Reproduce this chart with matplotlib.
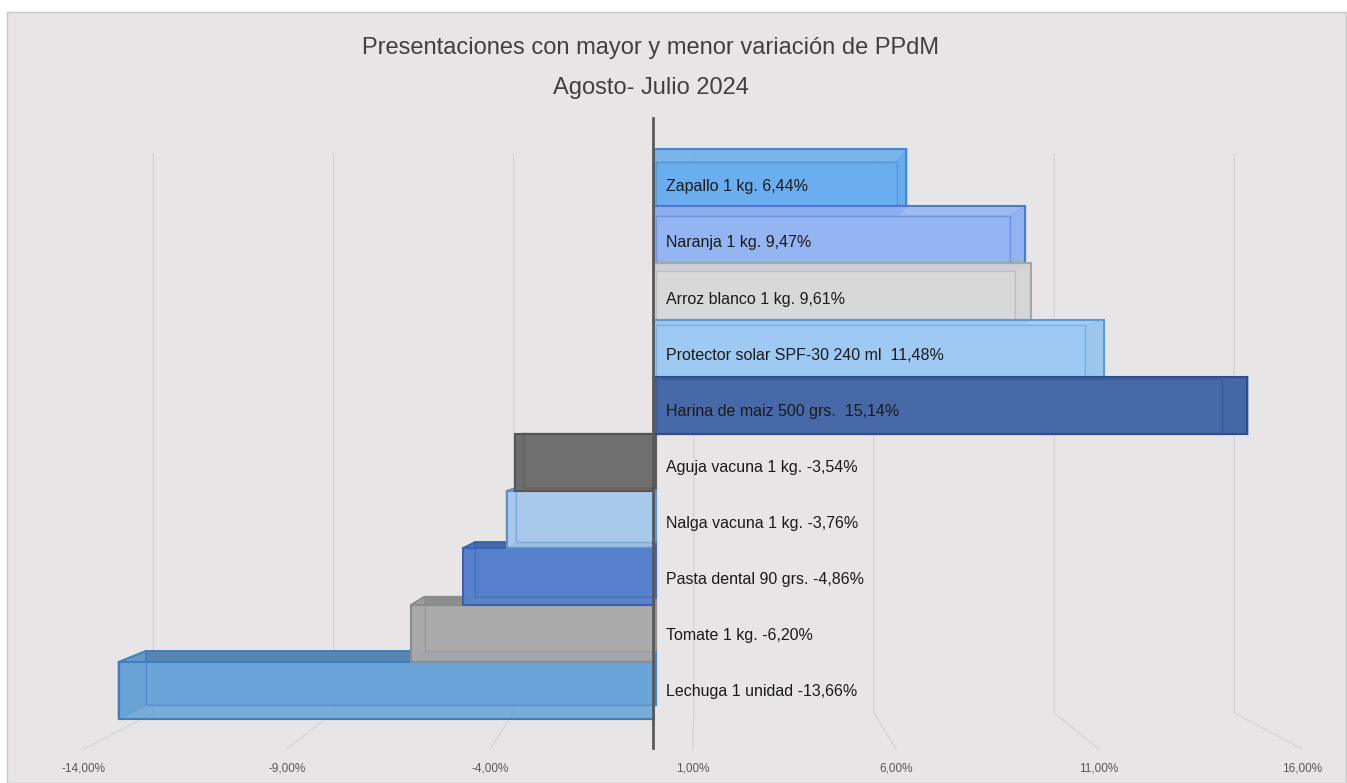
import numpy as np
import matplotlib.pyplot as plt
from matplotlib.patches import Polygon, Rectangle
import matplotlib.colors as mcolors

plt.rcParams['font.family'] = ['Liberation Sans', 'DejaVu Sans']

# data (bottom to top)
productos = ["Lechuga 1 unidad", "Tomate 1 kg.", "Pasta dental 90 grs.", "Nalga vacuna 1 kg.",
             "Aguja vacuna 1 kg.", "Harina de maiz 500 grs.", "Protector solar SPF-30 240 ml",
             "Arroz blanco 1 kg.", "Naranja 1 kg.", "Zapallo 1 kg."]
variacion = [-13.66, -6.20, -4.86, -3.76, -3.54, 15.14, 11.48, 9.61, 9.47, 6.44]
etiquetas = ["Lechuga 1 unidad -13,66%", "Tomate 1 kg. -6,20%", "Pasta dental 90 grs. -4,86%",
             "Nalga vacuna 1 kg. -3,76%", "Aguja vacuna 1 kg. -3,54%", "Harina de maiz 500 grs.  15,14%",
             "Protector solar SPF-30 240 ml  11,48%", "Arroz blanco 1 kg. 9,61%", "Naranja 1 kg. 9,47%",
             "Zapallo 1 kg. 6,44%"]
colores = ["#6aa4d8", "#ababab", "#5881cd", "#a9c9eb", "#6f6f6f",
           "#4769a8", "#9dc9f2", "#d8d8d8", "#95b4f2", "#6aaeef"]
bordes = ["#3f7fc0", "#8c8c8c", "#3a62b0", "#5b8fcc", "#555555",
          "#2f4f8a", "#5b9bd5", "#a6a6a6", "#4f78d0", "#4a86c5"]
ticks = [-14, -9, -4, 1, 6, 11, 16]

# perspective settings (data coords)
CX, CY = 1.2, 4.605
K_BACK, K_WALL, K_FLOOR = 0.953, 0.919, 1.0357
Y_FLOOR, Y_WALL_TOP = -0.833, 9.83


def proj(x, y, k):
    return CX + (np.asarray(x) - CX) * k, CY + (np.asarray(y) - CY) * k


def darker(c, f=0.82):
    r, g, b = mcolors.to_rgb(c)
    return (r * f, g * f, b * f)


fig = plt.figure(figsize=(13.47, 7.83), dpi=100)
fig.patch.set_facecolor('white')

ax = fig.add_axes([0, 0, 1, 1])
ax.set_xlim(-16.684, 17.679)
ax.set_ylim(-1.623, 12.114)
ax.axis('off')
ax.add_patch(Rectangle((7 / 1347, 0), 1339 / 1347, 771 / 783, transform=ax.transAxes,
                       facecolor='#e7e5e6', edgecolor='#c8c8c8', lw=1, zorder=0))

# back wall + floor gridlines
for t in ticks:
    xw, yb = proj(t, Y_FLOOR, K_WALL)
    _, yt = proj(t, Y_WALL_TOP, K_WALL)
    xf, yf = proj(t, Y_FLOOR, K_FLOOR)
    ax.plot([xw, xw, xf], [yt, yb, yf], color='#d6d4d5', lw=1, zorder=1)
    ax.text(xf, -1.377, f"{t:,.2f}%".replace('.', ','), ha='center', va='center',
            fontsize=8.5, color='#595959')

# bars, drawn from the outside toward the vanishing point
orden = sorted(range(len(variacion)), key=lambda i: -abs(i - CY))
z = 2
for i in orden:
    v = variacion[i]
    y0, y1 = i - 0.5, i + 0.5
    fx = np.array([0, v, v, 0])
    fy = np.array([y0, y0, y1, y1])
    bx, by = proj(fx, fy, K_BACK)
    c, e = colores[i], bordes[i]
    ax.add_patch(Polygon(np.c_[bx, by], closed=True, fc=c, ec=e, lw=1.2, zorder=z))
    # horizontal face toward the centre
    if i < CY:
        hy, bhy = y1, by[2]
    else:
        hy, bhy = y0, by[0]
    ax.add_patch(Polygon([(0, hy), (v, hy), (bx[1], bhy), (bx[0], bhy)], closed=True,
                         fc=darker(c), ec=e, lw=1.2, zorder=z + 0.1))
    # end face
    ax.add_patch(Polygon([(v, y0), (v, y1), (bx[1], by[2]), (bx[1], by[1])], closed=True,
                         fc=darker(c, 0.92), ec=e, lw=1.2, zorder=z + 0.2))
    # front face (slightly see-through)
    ax.add_patch(Polygon(np.c_[fx, fy], closed=True, fc=c, ec='none', alpha=0.88, zorder=z + 0.3))
    ax.add_patch(Polygon(np.c_[fx, fy], closed=True, fill=False, ec=e, lw=1.5, zorder=z + 0.4))
    # hidden back edges show through
    ax.plot(np.r_[bx, bx[0]], np.r_[by, by[0]], color=e, lw=1, alpha=0.45, zorder=z + 0.35)
    z += 1

# vertical axis
ax.plot([-0.02, -0.02], [-1.01, 10.04], color='#595959', lw=2, zorder=40)

# labels
for i, txt in enumerate(etiquetas):
    ax.text(0.3, 0.984 * i - 0.02, txt, ha='left', va='center', fontsize=11.5,
            color='#1a1a1a', zorder=50)

fig.text(0.4833, 1 - 48 / 783, "Presentaciones con mayor y menor variación de PPdM",
         ha='center', va='center', fontsize=17, color='#404040')
fig.text(0.4833, 1 - 88 / 783, "Agosto- Julio 2024", ha='center', va='center',
         fontsize=17, color='#404040')

fig.savefig('out.png', dpi=100)
